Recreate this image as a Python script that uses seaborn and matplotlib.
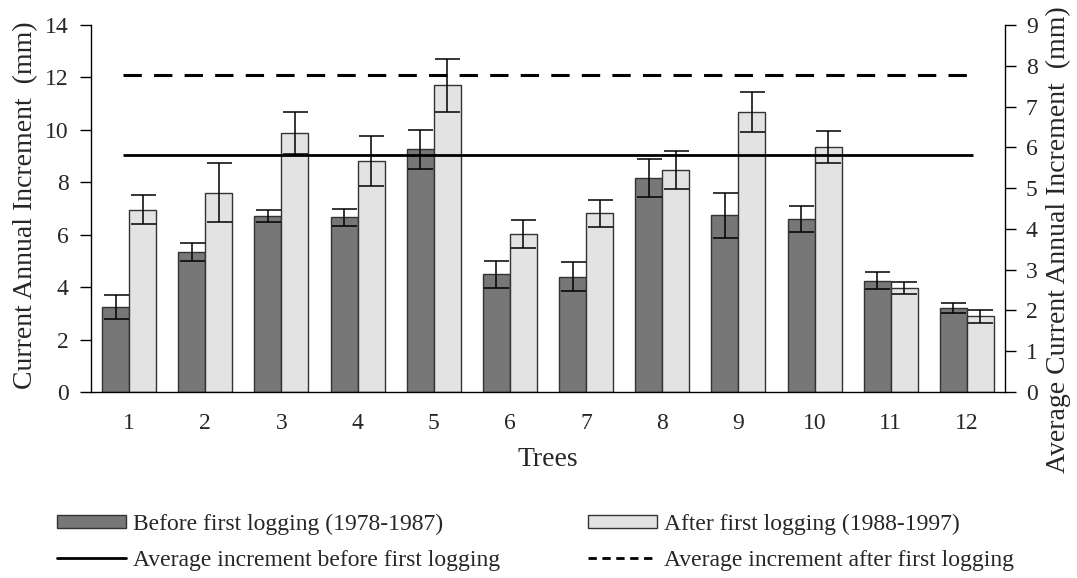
import matplotlib
matplotlib.use("Agg")
import matplotlib.pyplot as plt
import seaborn as sns
import pandas as pd
import numpy as np
from matplotlib.patches import Patch
from matplotlib.lines import Line2D

trees = [str(i) for i in range(1, 13)]
before = [3.25, 5.33, 6.71, 6.66, 9.26, 4.49, 4.40, 8.17, 6.75, 6.61, 4.25, 3.22]
before_err = [0.45, 0.35, 0.24, 0.32, 0.75, 0.51, 0.56, 0.72, 0.86, 0.49, 0.31, 0.19]
after = [6.95, 7.60, 9.89, 8.81, 11.70, 6.02, 6.81, 8.46, 10.67, 9.35, 3.96, 2.89]
after_err = [0.56, 1.12, 0.80, 0.95, 1.00, 0.53, 0.53, 0.73, 0.77, 0.61, 0.24, 0.24]
avg_before = 5.80   # right axis
avg_after = 7.77    # right axis
lab_before = "Before first logging (1978-1987)"
lab_after = "After first logging (1988-1997)"
lab_avg_before = "Average increment before first logging"
lab_avg_after = "Average increment after first logging"

sns.set_theme(style="white")
plt.rcParams['font.family'] = ['Liberation Serif', 'DejaVu Serif']
FS_TICK = 17
FS_LAB = 20
FS_LEG = 17

c_dark = "#777777"
c_light = "#e3e3e3"
c_edge = "#333333"

df = pd.DataFrame({
    "Tree": trees * 2,
    "Value": before + after,
    "Err": before_err + after_err,
    "Period": [lab_before] * 12 + [lab_after] * 12,
})

fig = plt.figure(figsize=(10.77, 5.78), dpi=100)
ax = fig.add_axes([91/1077, 1 - 392/578, (1005-91)/1077, (392-25)/578])

sns.barplot(data=df, x="Tree", y="Value", hue="Period", order=trees,
            hue_order=[lab_before, lab_after],
            palette=[c_dark, c_light], width=0.71, edgecolor=c_edge,
            linewidth=1.0, errorbar=None, legend=False, ax=ax, zorder=2)

# error bars at bar centres
for cont, errs in zip(ax.containers, [before_err, after_err]):
    xs = [p.get_x() + p.get_width() / 2 for p in cont.patches]
    ys = [p.get_height() for p in cont.patches]
    ax.errorbar(xs, ys, yerr=errs, fmt="none", ecolor="black",
                elinewidth=1.1, capsize=9, capthick=1.1, zorder=3)

ax.set_ylim(0, 14)
ax.set_yticks(np.arange(0, 15, 2))
ax.set_xlim(-0.5, 11.5)
ax.set_xticks(np.arange(-0.5, 12, 1), minor=True)
ax.tick_params(axis="x", which="major", length=0, labelsize=FS_TICK, pad=15)
ax.tick_params(axis="x", which="minor", length=6, width=1, color="black", direction="out")
ax.tick_params(axis="y", length=8, width=1, color="black", direction="out",
               labelsize=FS_TICK, pad=8)
ax.set_xlabel("Trees", fontsize=FS_LAB)
ax.xaxis.set_label_coords(0.5, -0.15)
ax.set_ylabel("Current Annual Increment  (mm)", fontsize=FS_LAB)
ax.yaxis.set_label_coords(-0.058, 0.51)
for s in ["top", "right"]:
    ax.spines[s].set_visible(False)
for s in ["left", "bottom"]:
    ax.spines[s].set_color("black")
    ax.spines[s].set_linewidth(1)

ax2 = ax.twinx()
ax2.set_ylim(0, 9)
ax2.set_yticks(np.arange(0, 10, 1))
ax2.hlines(avg_before, -0.08, 11.08, colors="black", linestyles="solid", linewidth=2)
ax2.hlines(avg_after, -0.08, 11.08, colors="black", linestyles=(0, (6, 4)), linewidth=2.2)
ax2.set_xlim(-0.5, 11.5)
ax2.tick_params(axis="y", length=8, width=1, color="black", direction="out",
                labelsize=FS_TICK, pad=7)
ax2.set_ylabel("Average Current Annual Increment  (mm)", fontsize=FS_LAB)
ax2.yaxis.set_label_coords(1.045, 0.415)
for s in ["top", "left", "bottom"]:
    ax2.spines[s].set_visible(False)
ax2.spines["right"].set_color("black")
ax2.spines["right"].set_linewidth(1)

handles = [
    Patch(facecolor=c_dark, edgecolor=c_edge, linewidth=1),
    Line2D([], [], color="black", linewidth=2),
    Patch(facecolor=c_light, edgecolor=c_edge, linewidth=1),
    Line2D([], [], color="black", linewidth=2, linestyle=(0, (3, 2))),
]
labels = [lab_before, lab_avg_before, lab_after, lab_avg_after]
fig.legend(handles, labels, ncol=2, loc="upper left",
           bbox_to_anchor=(38/1077, 1 - 495/578), frameon=False,
           fontsize=FS_LEG, handlelength=2.92, handleheight=0.5, handletextpad=0.3,
           columnspacing=3.73, labelspacing=0.62, borderpad=0.3)

fig.savefig("out.png", dpi=100)
